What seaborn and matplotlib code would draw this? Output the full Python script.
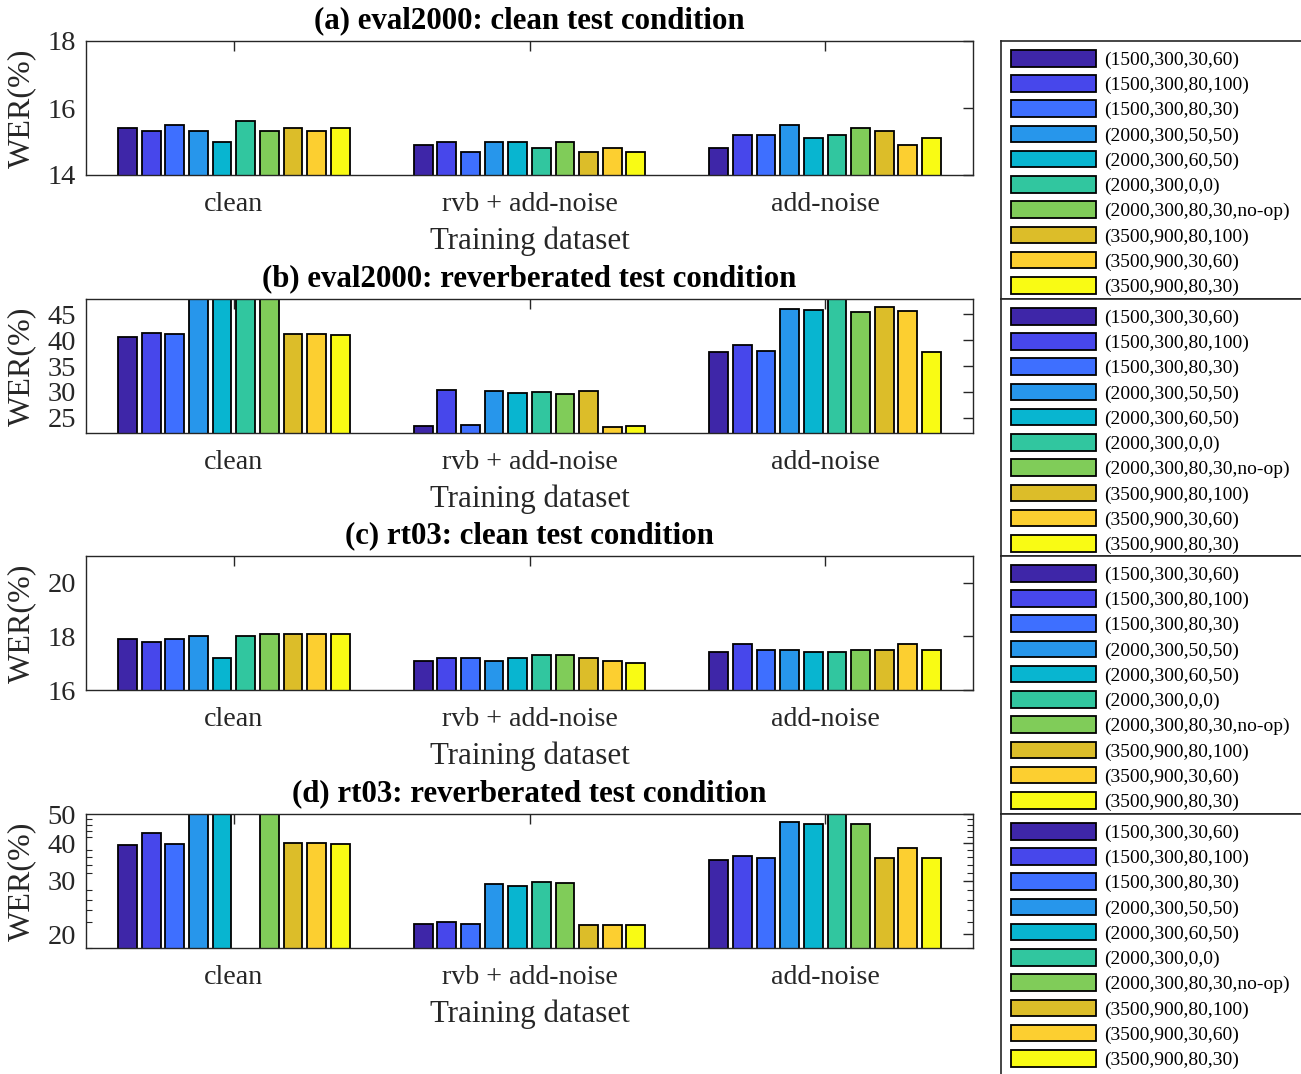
import numpy as np
import pandas as pd
import matplotlib
matplotlib.use("Agg")
import matplotlib.pyplot as plt
from matplotlib.ticker import FixedLocator, FixedFormatter, NullFormatter
import seaborn as sns

sns.set_theme(style="white")
plt.rcParams["font.family"] = ["Liberation Serif", "DejaVu Serif"]
plt.rcParams["mathtext.fontset"] = "stix"

# Training sets (x categories) and acoustic model configurations (hue)
train_sets = ["clean", "rvb + add-noise", "add-noise"]
configs = [
    "(1500,300,30,60)",
    "(1500,300,80,100)",
    "(1500,300,80,30)",
    "(2000,300,50,50)",
    "(2000,300,60,50)",
    "(2000,300,0,0)",
    "(2000,300,80,30,no-op)",
    "(3500,900,80,100)",
    "(3500,900,30,60)",
    "(3500,900,80,30)",
]
parula10 = ["#3E26A8", "#4747EB", "#3E6FFF", "#2796EB", "#08B5D0",
            "#31C69F", "#80CC59", "#DCBD29", "#FCCF30", "#F9FB14"]

# WER (%) per training set, one value per configuration
eval2000_clean = {
    "clean":           [15.4, 15.3, 15.5, 15.3, 15.0, 15.6, 15.3, 15.4, 15.3, 15.4],
    "rvb + add-noise": [14.9, 15.0, 14.7, 15.0, 15.0, 14.8, 15.0, 14.7, 14.8, 14.7],
    "add-noise":       [14.8, 15.2, 15.2, 15.5, 15.1, 15.2, 15.4, 15.3, 14.9, 15.1],
}
eval2000_rvb = {
    "clean":           [40.6, 41.4, 41.3, 52.0, 51.5, 53.0, 50.5, 41.2, 41.3, 41.1],
    "rvb + add-noise": [23.4, 30.3, 23.5, 30.1, 29.8, 30.0, 29.6, 30.1, 23.2, 23.4],
    "add-noise":       [37.7, 39.0, 38.0, 46.0, 45.9, 49.5, 45.5, 46.4, 45.7, 37.7],
}
rt03_clean = {
    "clean":           [17.9, 17.8, 17.9, 18.0, 17.2, 18.0, 18.1, 18.1, 18.1, 18.1],
    "rvb + add-noise": [17.1, 17.2, 17.2, 17.1, 17.2, 17.3, 17.3, 17.2, 17.1, 17.0],
    "add-noise":       [17.4, 17.7, 17.5, 17.5, 17.4, 17.4, 17.5, 17.5, 17.7, 17.5],
}
rt03_rvb = {
    "clean":           [39.6, 43.4, 39.8, 55.0, 54.0, np.nan, 56.0, 40.0, 40.0, 39.8],
    "rvb + add-noise": [21.6, 22.0, 21.6, 29.4, 28.9, 29.8, 29.5, 21.5, 21.5, 21.5],
    "add-noise":       [35.3, 36.3, 35.8, 47.2, 46.3, 53.0, 46.3, 35.8, 38.5, 35.8],
}

panels = [
    ("(a) eval2000: clean test condition", eval2000_clean, (14, 18), [14, 16, 18], False),
    ("(b) eval2000: reverberated test condition", eval2000_rvb, (22, 48), [25, 30, 35, 40, 45], False),
    ("(c) rt03: clean test condition", rt03_clean, (16, 21), [16, 18, 20], False),
    ("(d) rt03: reverberated test condition", rt03_rvb, (18, 50), [20, 30, 40, 50], True),
]

W, H = 1301, 1074
fig = plt.figure(figsize=(W / 100, H / 100), dpi=100)

ax_left, ax_right = 86, 973
ax_tops = [41, 299, 556, 814]
ax_h = 134
leg_left = 1001
leg_tops = [41, 299, 556, 814]
leg_hs = [258, 257, 258, 300]

axis_col = "#262626"

for i, (title, table, ylim, yticks, logy) in enumerate(panels):
    top = ax_tops[i]
    ax = fig.add_axes([ax_left / W, 1 - (top + ax_h) / H,
                       (ax_right - ax_left) / W, ax_h / H])
    rows = [(t, c, v) for t in train_sets for c, v in zip(configs, table[t])
            if not np.isnan(v)]
    df = pd.DataFrame(rows, columns=["train", "config", "wer"])
    if logy:
        ax.set_yscale("log")
    sns.barplot(data=df, x="train", y="wer", hue="config",
                order=train_sets, hue_order=configs, palette=parula10,
                width=0.8, gap=0.2, errorbar=None, edgecolor="black",
                linewidth=1.3, saturation=1, ax=ax)
    handles, labels = ax.get_legend_handles_labels()
    if ax.get_legend() is not None:
        ax.get_legend().remove()

    ax.set_xlim(-0.5, 2.5)
    ax.set_ylim(*ylim)
    if logy:
        ax.yaxis.set_major_locator(FixedLocator(yticks))
        ax.yaxis.set_major_formatter(FixedFormatter([str(t) for t in yticks]))
        minors = [v for v in range(18, 51, 2) if v not in yticks]
        ax.yaxis.set_minor_locator(FixedLocator(minors))
        ax.yaxis.set_minor_formatter(NullFormatter())
        ax.tick_params(axis="y", which="minor", direction="in", length=4.5,
                       width=0.8, left=True, right=True, color=axis_col)
    else:
        ax.set_yticks(yticks)
    ax.tick_params(axis="both", which="major", direction="in", length=7,
                   width=1.0, top=True, right=True, color=axis_col,
                   labelcolor=axis_col)
    ax.tick_params(axis="y", which="major", labelsize=20.5, pad=7)
    ax.tick_params(axis="x", which="major", labelsize=20.2, pad=12)
    for s in ax.spines.values():
        s.set_color(axis_col)
        s.set_linewidth(1.0)
        s.set_visible(True)
    ax.set_xlabel("Training dataset", fontsize=22.3, color=axis_col, labelpad=7)
    ax.set_ylabel("WER(%)", fontsize=23, color=axis_col)
    ax.yaxis.set_label_coords(-0.056, 0.5)
    ax.set_title(title, fontsize=22.2, fontweight="bold", color="black", pad=9)

    # legend panel for this subplot
    lax = fig.add_axes([leg_left / W, 1 - (leg_tops[i] + leg_hs[i]) / H,
                        0.3, leg_hs[i] / H])
    lax.set_xticks([])
    lax.set_yticks([])
    for s in lax.spines.values():
        s.set_color(axis_col)
        s.set_linewidth(1.2)
    lax.set_facecolor("white")
    lax.legend(handles, labels, loc="upper left", frameon=False,
               bbox_to_anchor=(1011 / W, 1 - (leg_tops[i] + 9) / H),
               bbox_transform=fig.transFigure, borderaxespad=0, borderpad=0,
               fontsize=14, handlelength=4.35, handleheight=0.93,
               handletextpad=0.45, labelspacing=0.32, labelcolor="black")

fig.savefig("out.png", dpi=100)
